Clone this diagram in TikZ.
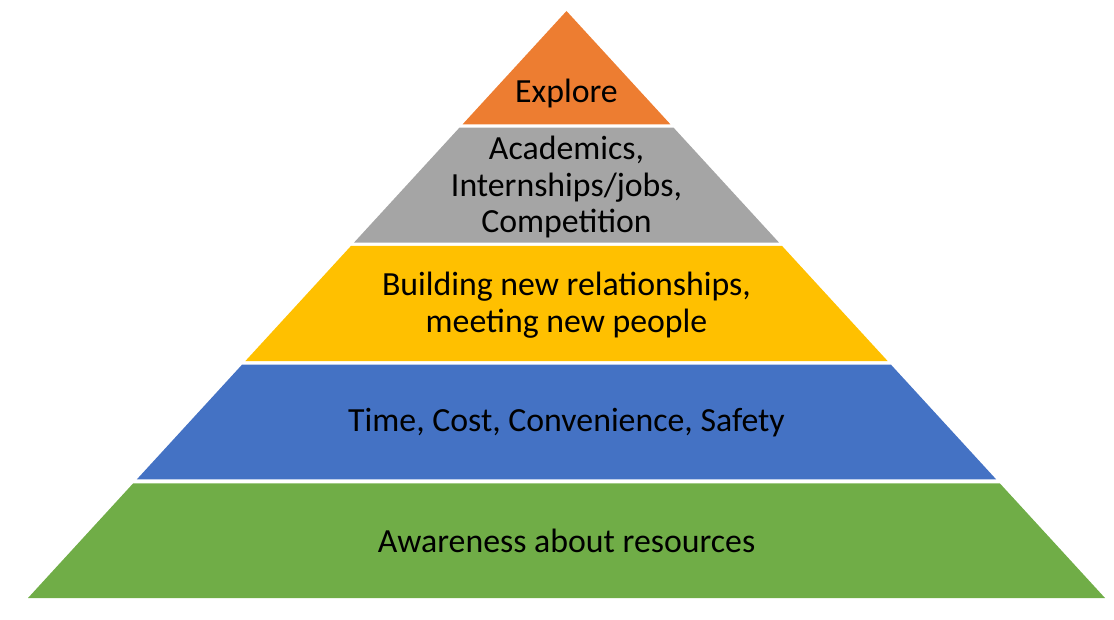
\documentclass[tikz,border=0pt]{standalone}
\usepackage{fontspec}
\setmainfont{Carlito}
\definecolor{cOrange}{HTML}{ED7D31}
\definecolor{cGray}{HTML}{A5A5A5}
\definecolor{cYellow}{HTML}{FFC000}
\definecolor{cBlue}{HTML}{4472C4}
\definecolor{cGreen}{HTML}{70AD47}
\begin{document}
\begin{tikzpicture}[x=0.5pt,y=-0.5pt,
  lbl/.style={align=center,text=black,inner sep=0pt,font=\fontsize{16.9}{18.4}\selectfont}]
\useasboundingbox (0,0) rectangle (1114,620);
\fill[cOrange] (566.5,11) -- (670.4,124.3) -- (462.6,124.3) -- cycle;
\fill[cGray] (459.4,127.7) -- (673.6,127.7) -- (779.1,242.7) -- (353.9,242.7) -- cycle;
\fill[cYellow] (350.9,246) -- (782.1,246) -- (887.6,361) -- (245.4,361) -- cycle;
\fill[cBlue] (242.0,364.7) -- (891.0,364.7) -- (996.1,479.3) -- (136.9,479.3) -- cycle;
\fill[cGreen] (133.2,483.3) -- (999.8,483.3) -- (1105,598) -- (28,598) -- cycle;
\node[lbl] (explore) at (566.5,93) {Explore};
\node[lbl] (acad) at (566.5,187) {Academics,\\Internships/jobs,\\Competition};
\node[lbl] (build) at (566.5,305) {Building new relationships,\\meeting new people};
\node[lbl] (time) at (566.5,423) {Time, Cost, Convenience, Safety};
\node[lbl] (aware) at (566.5,540.5) {Awareness about resources};
\end{tikzpicture}
\end{document}
